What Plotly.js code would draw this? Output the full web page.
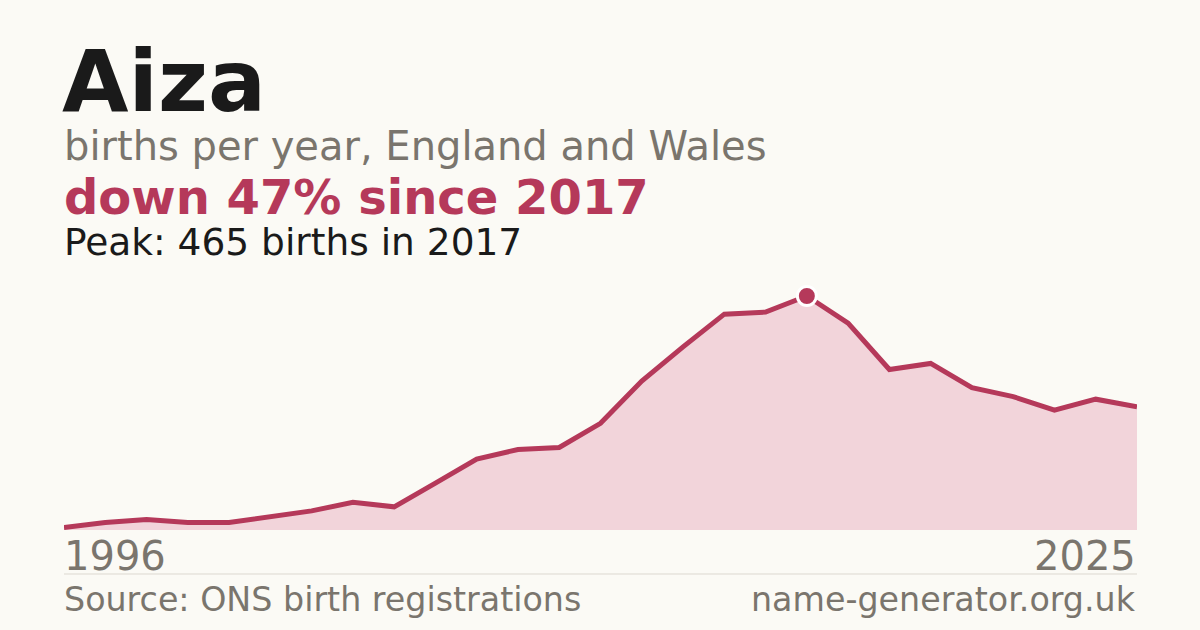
<!DOCTYPE html>
<html>
<head>
<meta charset="utf-8">
<script src="https://cdn.plot.ly/plotly-3.0.1.min.js"></script>
<style>
  html, body { margin: 0; padding: 0; background: #fbfaf5; }
  #chart { width: 1200px; height: 630px; }
</style>
</head>
<body>
<div id="chart"></div>
<script>
// Data (births per year, evenly spaced points)
const years = ['1996','2000','2001','2002','2003','2004','2005','2006','2007','2008','2009','2010','2011','2012','2013','2014','2015','2016','2017','2018','2019','2020','2021','2022','2023','2024','2025'];
const births = [5, 15, 21, 15, 15, 26, 38, 55, 46, 93, 141, 160, 164, 212, 296, 364, 429, 433, 465, 411, 319, 331, 283, 265, 238, 260, 245];
const peakYear = '2017';
const peakValue = 465;
const endLabels = ['1996', '2025'];

const nameTitle = 'Aiza';
const subtitle = 'births per year, England and Wales';
const changeText = 'down 47% since 2017';
const peakText = 'Peak: 465 births in 2017';
const sourceText = 'Source: ONS birth registrations';
const siteText = 'name-generator.org.uk';

const crimson = '#b5395a';
const grey = '#7a756d';
const dark = '#1a1a1a';
const font = 'DejaVu Sans, sans-serif';

const traces = [
  {
    x: years, y: births, type: 'scatter', mode: 'lines',
    line: { color: crimson, width: 5, shape: 'linear' },
    fill: 'tozeroy', fillcolor: '#f2d4da',
    hoverinfo: 'skip'
  },
  {
    x: [peakYear], y: [peakValue], type: 'scatter', mode: 'markers',
    marker: { color: crimson, size: 19, line: { color: '#ffffff', width: 3 } },
    hoverinfo: 'skip'
  }
];

function ann(text, x, y, size, color, bold, xanchor) {
  return {
    text: bold ? '<b>' + text + '</b>' : text,
    x: x, y: y, xref: 'paper', yref: 'paper',
    xanchor: xanchor || 'left', yanchor: 'middle',
    showarrow: false, borderpad: 0,
    font: { family: font, size: size, color: color }
  };
}

const layout = {
  width: 1200, height: 630,
  paper_bgcolor: '#fbfaf5', plot_bgcolor: 'rgba(0,0,0,0)',
  margin: { l: 64, r: 63, t: 270, b: 100 },
  showlegend: false,
  xaxis: {
    type: 'category', range: [0, years.length - 1],
    showgrid: false, zeroline: false, showline: false, showticklabels: false, ticks: '',
    fixedrange: true
  },
  yaxis: {
    range: [0, 516.7], showgrid: false, zeroline: false, showline: false,
    showticklabels: false, ticks: '', fixedrange: true
  },
  shapes: [
    { type: 'line', xref: 'paper', yref: 'paper', x0: 0, x1: 1, y0: -0.1692, y1: -0.1692,
      line: { color: '#dcd8d0', width: 1 } }
  ],
  annotations: [
    ann(nameTitle, -0.003, 1.727, 86, dark, true),
    ann(subtitle, -0.001, 1.476, 40, grey, false),
    ann(changeText, -0.001, 1.279, 48, crimson, true),
    ann(peakText, -0.001, 1.109, 37.5, dark, false),
    ann(endLabels[0], -0.001, -0.099, 40, grey, false),
    ann(endLabels[1], 1.0, -0.099, 40, grey, false, 'right'),
    ann(sourceText, -0.001, -0.266, 33.3, grey, false),
    ann(siteText, 1.0, -0.266, 33.3, grey, false, 'right')
  ]
};

Plotly.newPlot('chart', traces, layout, { displayModeBar: false, staticPlot: true });
</script>
</body>
</html>
